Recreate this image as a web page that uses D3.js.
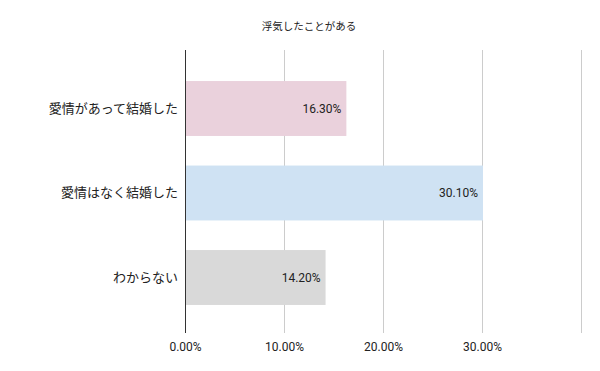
<!DOCTYPE html>
<html><head><meta charset="utf-8">
<script src="https://cdn.jsdelivr.net/npm/d3@7"></script>
<style>body{margin:0;background:#fff}svg{display:block}</style>
</head><body>
<svg id="c" width="600" height="371"></svg>
<script>
const title = "浮気したことがある";
const categories = ["愛情があって結婚した", "愛情はなく結婚した", "わからない"];
const values = [16.3, 30.1, 14.2];
const colors = ["#ead1dc", "#cfe2f3", "#d9d9d9"];
const ticks = [0, 10, 20, 30, 40];
const tickLabels = ["0.00%", "10.00%", "20.00%", "30.00%", ""];

const svg = d3.select("#c");
const x = d3.scaleLinear().domain([0, 40]).range([185, 581]);
const y = d3.scaleBand().domain(categories).range([66.25, 319.75]).paddingInner(0.35).paddingOuter(0.175);
const plotTop = 50, plotBottom = 333;

svg.append("text").attr("x", 309).attr("y", 30).attr("text-anchor", "middle")
  .attr("font-family", "'Noto Sans CJK JP', Roboto, sans-serif").attr("font-size", 10.5).attr("fill", "#222").text(title);

const xAxis = d3.axisBottom(x).tickValues(ticks).tickSize(-(plotBottom - plotTop)).tickFormat((d, i) => tickLabels[i]);
const gx = svg.append("g").attr("transform", `translate(0,${plotBottom})`).call(xAxis);
gx.select(".domain").remove();
gx.selectAll(".tick line").attr("stroke", "#cccccc").attr("shape-rendering", "crispEdges");
gx.selectAll(".tick text").attr("font-family", "Roboto, sans-serif").attr("font-size", 12).attr("fill", "#222").attr("dy", null).attr("y", 18);

svg.selectAll("rect.bar").data(values).join("rect").attr("class", "bar")
  .attr("x", x(0)).attr("y", (d, i) => y(categories[i]))
  .attr("width", d => x(d) - x(0)).attr("height", y.bandwidth())
  .attr("fill", (d, i) => colors[i]);

svg.append("line").attr("x1", x(0) + 0.5).attr("x2", x(0) + 0.5).attr("y1", plotTop).attr("y2", plotBottom)
  .attr("stroke", "#333").attr("stroke-width", 1);

svg.selectAll("text.val").data(values).join("text").attr("class", "val")
  .attr("x", d => x(d) - 5).attr("y", (d, i) => y(categories[i]) + y.bandwidth() / 2 + 4)
  .attr("text-anchor", "end").attr("font-family", "Roboto, sans-serif").attr("font-size", 12).attr("fill", "#222")
  .text(d => d.toFixed(2) + "%");

const yAxis = d3.axisLeft(y).tickSize(0).tickPadding(7);
const gy = svg.append("g").attr("transform", `translate(${x(0)},0)`).call(yAxis);
gy.select(".domain").remove();
gy.selectAll(".tick text").attr("font-family", "'Noto Sans CJK JP', sans-serif").attr("font-size", 13).attr("fill", "#222");
</script>
</body></html>
